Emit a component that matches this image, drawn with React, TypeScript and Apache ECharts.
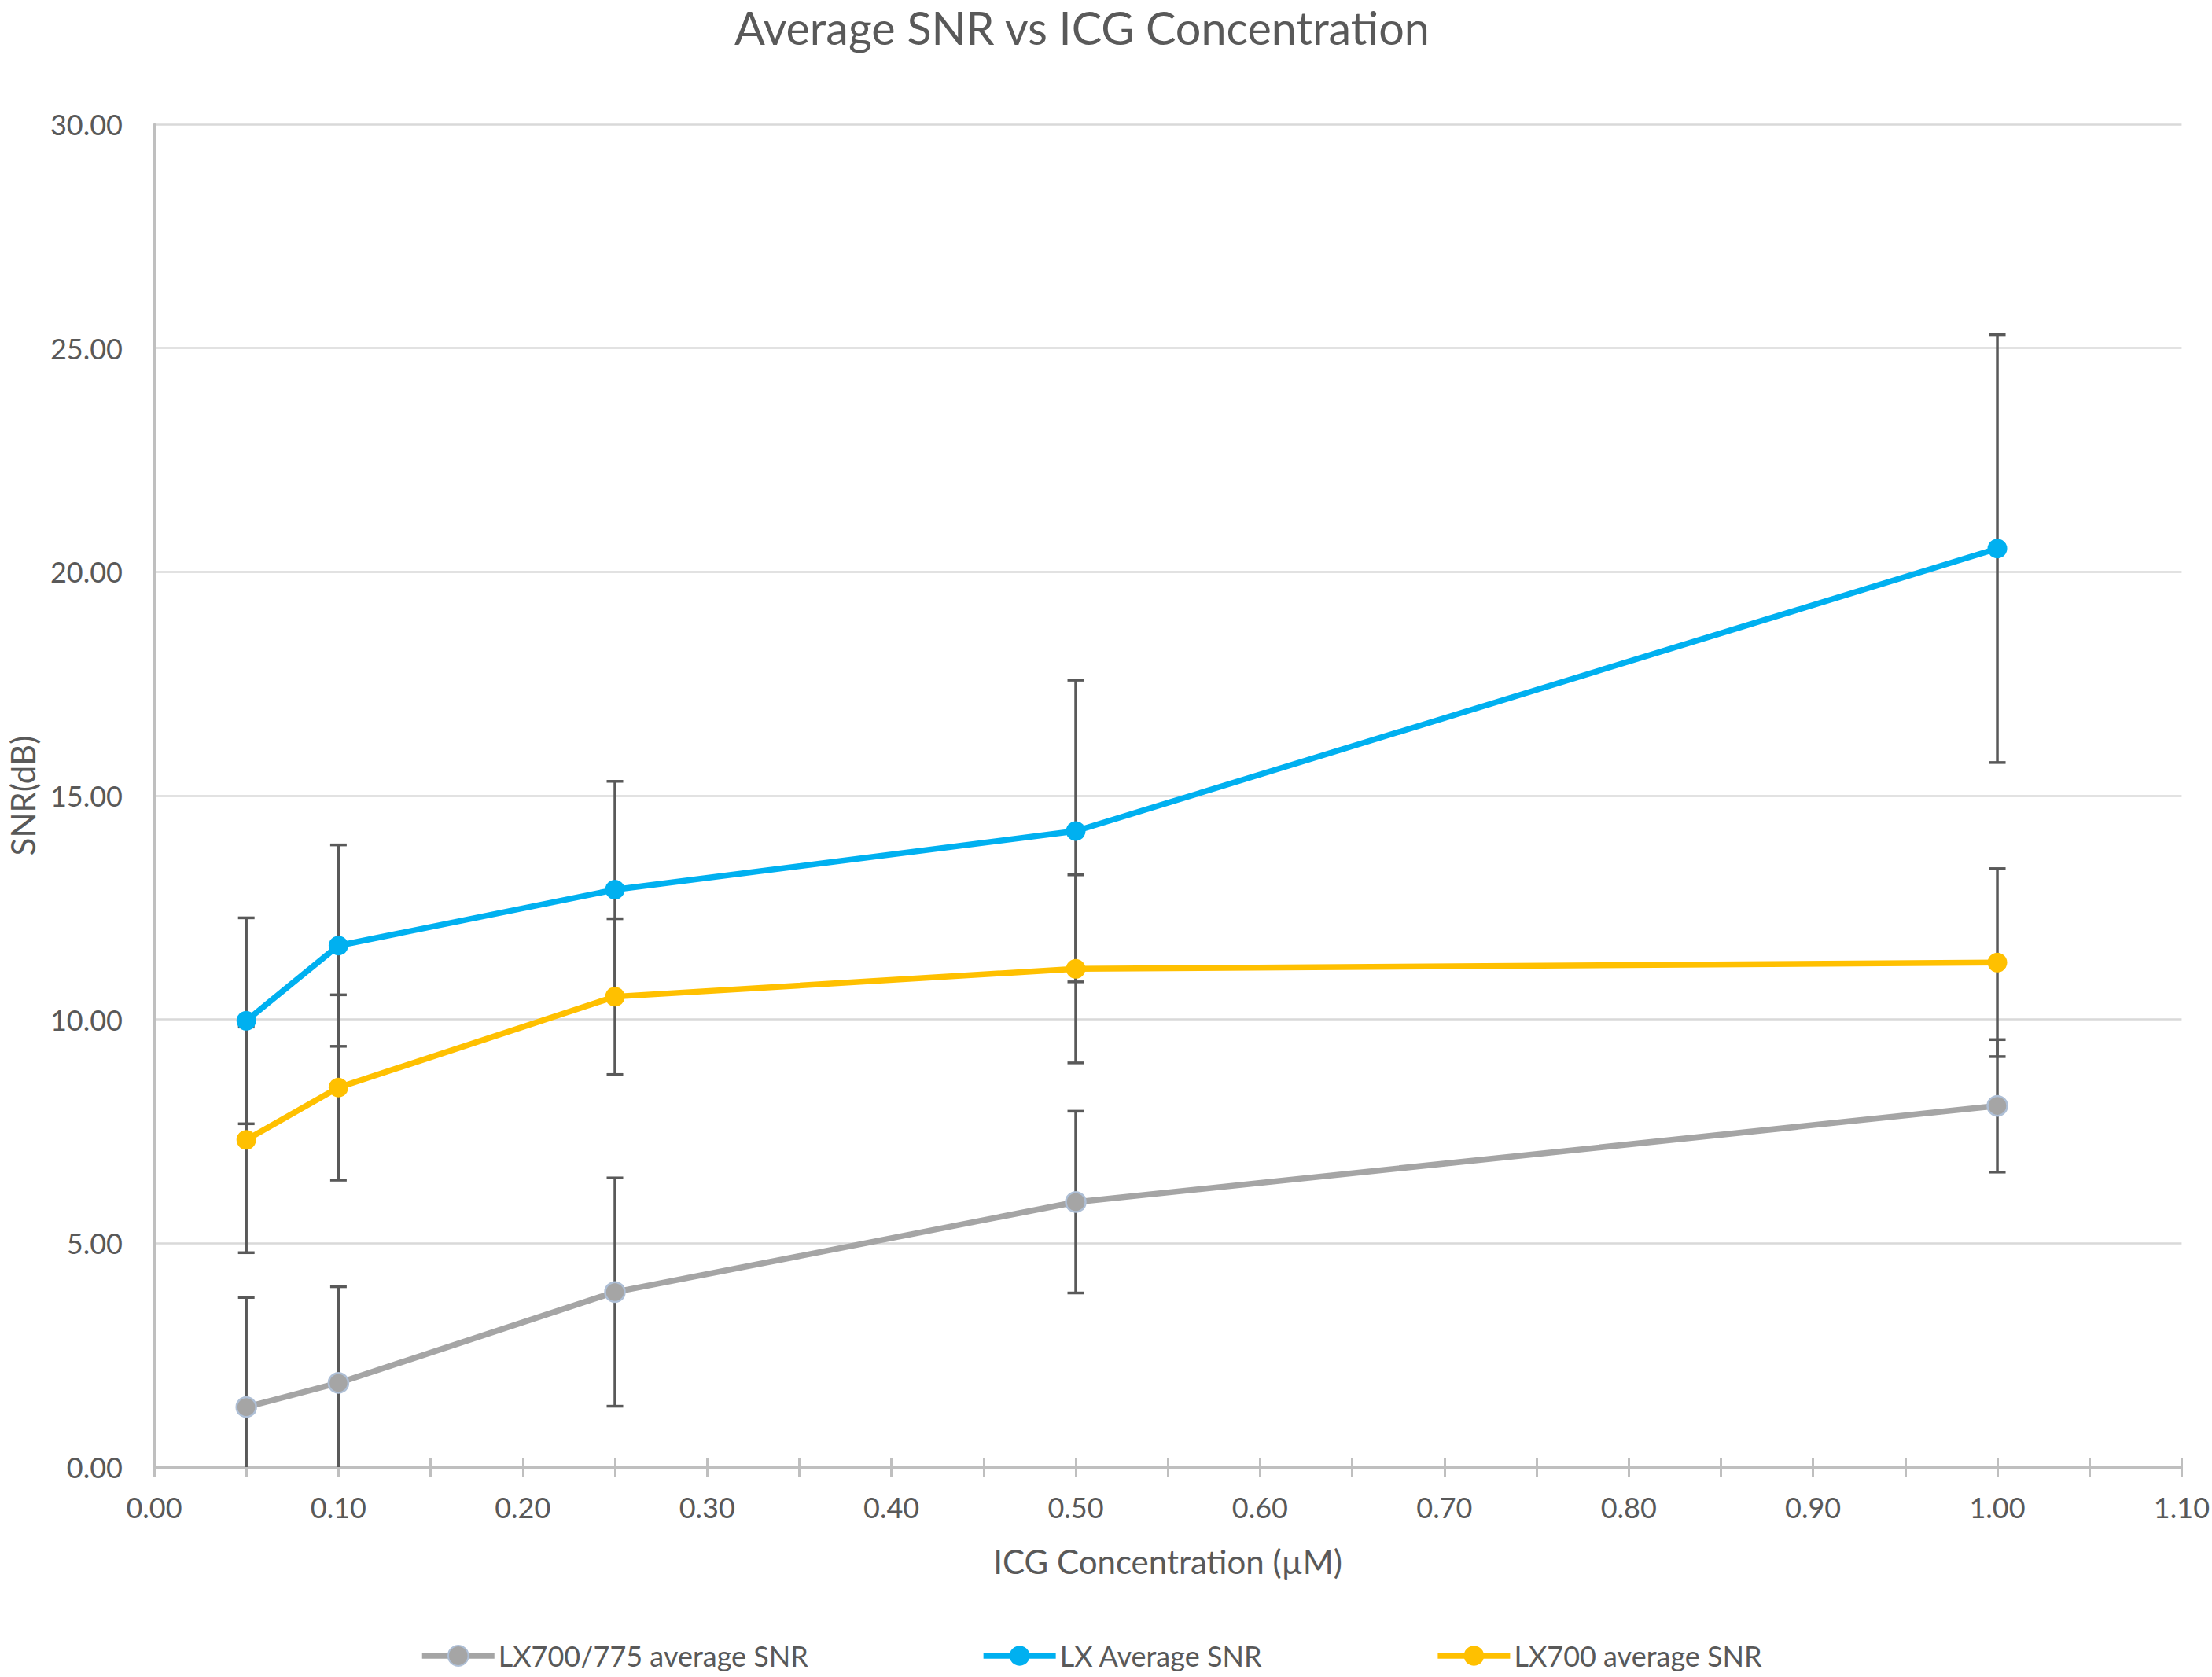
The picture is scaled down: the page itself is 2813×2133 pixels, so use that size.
import React, { useEffect, useRef } from "react";
import * as echarts from "echarts";

// ---- data ----
const concentrations = [0.05, 0.1, 0.25, 0.5, 1.0];

const seriesNames = ["LX700/775 average SNR", "LX Average SNR", "LX700 average SNR"];

const lx775Mean = [1.34, 1.88, 3.91, 5.92, 8.07];
const lx775Err = [2.45, 2.15, 2.55, 2.03, 1.48];

const lxMean = [9.97, 11.65, 12.9, 14.21, 20.52];
const lxErr = [2.3, 2.25, 2.42, 3.37, 4.78];

const lx700Mean = [7.31, 8.48, 10.51, 11.13, 11.27];
const lx700Err = [2.52, 2.07, 1.74, 2.1, 2.1];

const yTicks = { min: 0, max: 30, interval: 5 };
const xTicks = { min: 0, max: 1.1, interval: 0.05 };

const colors = ["#a5a5a5", "#00b0f0", "#ffc000"];

const FONT = "Lato";
const TEXT = "#595959";

export default function App() {
  const ref = useRef<HTMLDivElement>(null);

  useEffect(() => {
    if (!ref.current) return;
    const chart = echarts.init(ref.current, undefined, { renderer: "svg" });

    const means = [lx775Mean, lxMean, lx700Mean];
    const errs = [lx775Err, lxErr, lx700Err];

    const errorSeries = means.map((m, si) => ({
      type: "custom",
      name: seriesNames[si] + " error",
      z: 1,
      silent: true,
      data: concentrations.map((c, i) => [c, m[i], errs[si][i]]),
      encode: { x: 0, y: 1 },
      renderItem: (params: any, api: any) => {
        const x = api.value(0);
        const mean = api.value(1);
        const e = api.value(2);
        const lo = mean - e;
        const hi = mean + e;
        const loC = Math.max(lo, yTicks.min);
        const hiC = Math.min(hi, yTicks.max);
        const pLo = api.coord([x, loC]);
        const pHi = api.coord([x, hiC]);
        const hw = 10.5;
        const style = { stroke: "#595959", lineWidth: 3.5 };
        const children: any[] = [
          { type: "line", shape: { x1: pLo[0], y1: pLo[1], x2: pHi[0], y2: pHi[1] }, style },
        ];
        if (lo >= yTicks.min) {
          children.push({ type: "line", shape: { x1: pLo[0] - hw, y1: pLo[1], x2: pLo[0] + hw, y2: pLo[1] }, style });
        }
        if (hi <= yTicks.max) {
          children.push({ type: "line", shape: { x1: pHi[0] - hw, y1: pHi[1], x2: pHi[0] + hw, y2: pHi[1] }, style });
        }
        return { type: "group", children };
      },
    }));

    const lineSeries = means.map((m, si) => ({
      type: "line",
      name: seriesNames[si],
      z: 3,
      data: concentrations.map((c, i) => [c, m[i]]),
      symbol: "circle",
      symbolSize: 25,
      showSymbol: true,
      lineStyle: { color: colors[si], width: 7.5 },
      itemStyle: {
        color: colors[si],
        borderColor: si === 0 ? "#aebfd6" : colors[si],
        borderWidth: si === 0 ? 2.5 : 0,
      },
      emphasis: { disabled: true },
    }));

    const option: any = {
      animation: false,
      backgroundColor: "#ffffff",
      title: {
        text: "Average SNR vs ICG Concentration",
        left: 929,
        top: 0,
        textStyle: { fontFamily: FONT, fontSize: 57.5, fontWeight: "normal", color: TEXT },
      },
      legend: {
        data: seriesNames,
        left: 528,
        top: 2083,
        itemWidth: 92,
        itemHeight: 32,
        itemGap: 219,
        lineStyle: { width: 7.5 },
        textStyle: { fontFamily: FONT, fontSize: 36, color: TEXT },
      },
      grid: { left: 183, right: 31, top: 158, bottom: 267, containLabel: false },
      xAxis: [
        {
          type: "value",
          min: xTicks.min,
          max: xTicks.max,
          interval: xTicks.interval,
          name: "ICG Concentration (µM)",
          nameLocation: "middle",
          nameGap: 99,
          nameTextStyle: { fontFamily: FONT, fontSize: 42, color: TEXT },
          axisLine: { show: true, lineStyle: { color: "#bfbfbf", width: 3 } },
          axisTick: { show: true, inside: false, length: 12, lineStyle: { color: "#bfbfbf", width: 3 } },
          splitLine: { show: false },
          axisLabel: {
            margin: 33,
            fontFamily: FONT,
            fontSize: 36,
            color: TEXT,
            formatter: (v: number) => (Math.round(v * 100) % 10 === 0 ? v.toFixed(2) : ""),
          },
        },
        {
          type: "value",
          position: "bottom",
          min: xTicks.min,
          max: xTicks.max,
          interval: xTicks.interval,
          axisLine: { show: false },
          axisTick: { show: true, inside: true, length: 12, lineStyle: { color: "#bfbfbf", width: 3 } },
          axisLabel: { show: false },
          splitLine: { show: false },
        },
      ],
      yAxis: {
        type: "value",
        min: yTicks.min,
        max: yTicks.max,
        interval: yTicks.interval,
        name: "SNR(dB)",
        nameLocation: "middle",
        nameGap: 146,
        nameRotate: 90,
        nameTextStyle: { fontFamily: FONT, fontSize: 42, color: TEXT },
        axisLine: { show: true, lineStyle: { color: "#bfbfbf", width: 3 } },
        axisTick: { show: false },
        splitLine: { show: true, lineStyle: { color: "#d9d9d9", width: 2.5 } },
        axisLabel: {
          margin: 40,
          fontFamily: FONT,
          fontSize: 36,
          color: TEXT,
          formatter: (v: number) => v.toFixed(2),
        },
      },
      series: [...errorSeries, ...lineSeries],
    };

    chart.setOption(option);
    return () => chart.dispose();
  }, []);

  return (
    <div
      ref={ref}
      style={{ position: "fixed", left: 0, top: 0, width: "2813px", height: "2133px", background: "#fff" }}
    />
  );
}
